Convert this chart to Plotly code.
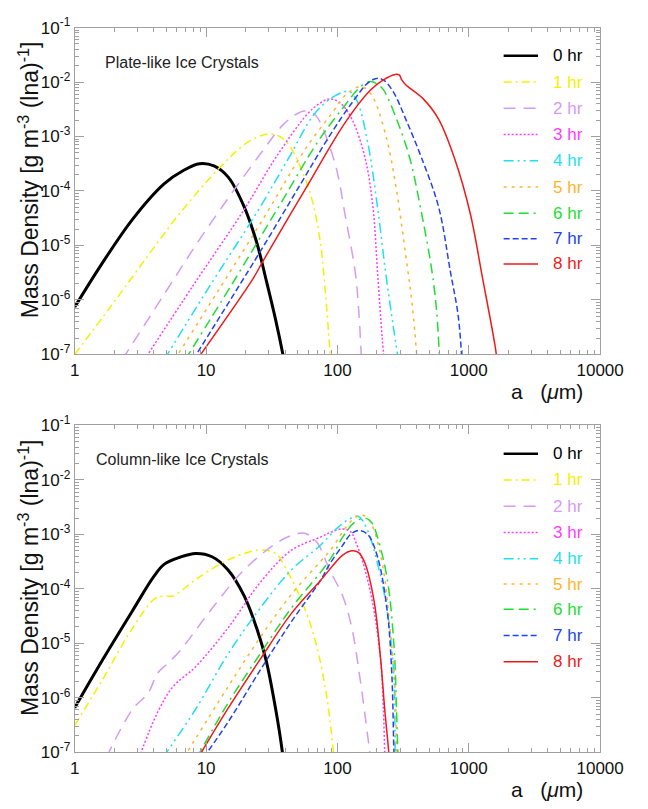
import numpy as np
import plotly.graph_objects as go

# ---------------- data (log10 values) ----------------
hours = ["0 hr", "1 hr", "2 hr", "3 hr", "4 hr", "5 hr", "6 hr", "7 hr", "8 hr"]
colors = ["#000000", "#F5F000", "#D49BF2", "#FF3CFF", "#1EE0F0",
          "#FFB428", "#22DD33", "#2244EE", "#EE1A1A"]
dashes = ["solid", "8px,4px,2px,4px", "12px,8px", "2px,2px",
          "10px,4px,2px,4px,2px,4px", "3px,5px", "10px,5px,10px,5px,2px,5px",
          "6px,3px", "solid"]
widths = [3, 1.5, 1.5, 1.5, 1.5, 1.5, 1.5, 1.5, 1.5]

# Plate-like ice crystals: log10(a [um]) and log10(mass density)
plate_0hr_loga = [0.0, 0.2, 0.44, 0.68, 0.83, 0.95, 1.06, 1.17, 1.29, 1.385, 1.46, 1.53, 1.585, 1.6]
plate_0hr_logm = [-6.13, -5.36, -4.52, -3.87, -3.62, -3.5, -3.54, -3.75, -4.29, -4.94, -5.66, -6.37, -7.0, -7.2]
plate_1hr_loga = [0.0, 0.28, 0.56, 0.80, 1.08, 1.29, 1.40, 1.48, 1.56, 1.63, 1.72, 1.80, 1.87, 1.905, 1.94, 1.95]
plate_1hr_logm = [-7.0, -6.1, -5.18, -4.41, -3.63, -3.15, -3.0, -2.95, -3.0, -3.15, -3.57, -4.1, -4.94, -5.77, -6.84, -7.2]
plate_2hr_loga = [0.36, 0.68, 0.92, 1.16, 1.41, 1.58, 1.68, 1.75, 1.83, 1.88, 1.99, 2.06, 2.135, 2.165, 2.185]
plate_2hr_logm = [-7.1, -5.9, -5.0, -4.16, -3.33, -2.8, -2.6, -2.53, -2.6, -2.8, -3.57, -4.46, -5.48, -6.3, -7.2]
plate_3hr_loga = [0.53, 0.9, 1.29, 1.53, 1.77, 1.86, 1.94, 2.02, 2.11, 2.21, 2.27, 2.305, 2.34, 2.36]
plate_3hr_logm = [-7.1, -5.74, -4.34, -3.39, -2.59, -2.4, -2.31, -2.38, -2.68, -3.39, -4.29, -5.48, -6.67, -7.2]
plate_4hr_loga = [0.68, 1.0, 1.385, 1.63, 1.82, 1.95, 2.05, 2.09, 2.15, 2.23, 2.305, 2.366, 2.42, 2.47]
plate_4hr_logm = [-7.1, -5.85, -4.4, -3.39, -2.6, -2.3, -2.18, -2.17, -2.35, -3.1, -4.29, -5.48, -6.4, -7.2]
plate_5hr_loga = [0.76, 1.1, 1.45, 1.75, 1.95, 2.08, 2.18, 2.23, 2.28, 2.38, 2.45, 2.52, 2.57, 2.61]
plate_5hr_logm = [-7.1, -5.8, -4.45, -3.25, -2.6, -2.2, -2.08, -2.15, -2.32, -3.09, -3.99, -5.18, -6.1, -7.2]
plate_6hr_loga = [0.84, 1.2, 1.55, 1.85, 2.05, 2.17, 2.25, 2.30, 2.35, 2.45, 2.55, 2.64, 2.72, 2.755, 2.78]
plate_6hr_logm = [-7.1, -5.7, -4.3, -3.1, -2.45, -2.1, -1.99, -2.03, -2.14, -2.68, -3.39, -4.4, -5.48, -6.2, -7.2]
plate_7hr_loga = [0.90, 1.41, 1.72, 1.95, 2.12, 2.24, 2.31, 2.36, 2.43, 2.52, 2.64, 2.77, 2.86, 2.92, 2.95]
plate_7hr_logm = [-7.1, -5.12, -3.87, -2.95, -2.35, -2.0, -1.93, -1.98, -2.2, -2.68, -3.39, -4.29, -5.48, -6.3, -7.2]
plate_8hr_loga = [0.93, 1.36, 1.43, 1.75, 2.06, 2.25, 2.35, 2.44, 2.47, 2.49, 2.52, 2.65, 2.77, 2.89, 3.01, 3.105, 3.2, 3.22]
plate_8hr_logm = [-7.1, -5.6, -5.3, -3.99, -2.74, -2.15, -1.96, -1.86, -1.87, -1.96, -2.05, -2.3, -2.68, -3.39, -4.4, -5.6, -6.84, -7.2]

# Column-like ice crystals
col_0hr_loga = [0.0, 0.2, 0.44, 0.6, 0.68, 0.80, 0.92, 1.045, 1.166, 1.29, 1.385, 1.458, 1.53, 1.58, 1.59]
col_0hr_logm = [-6.18, -5.35, -4.4, -3.78, -3.55, -3.42, -3.35, -3.41, -3.65, -4.13, -4.72, -5.32, -6.21, -6.98, -7.2]
col_1hr_loga = [0.0, 0.196, 0.44, 0.61, 0.68, 0.75, 0.92, 1.166, 1.40, 1.53, 1.60, 1.70, 1.77, 1.845, 1.918, 1.966, 1.975]
col_1hr_logm = [-6.5, -5.73, -4.72, -4.18, -4.13, -4.13, -3.83, -3.47, -3.29, -3.35, -3.59, -4.07, -4.48, -5.08, -5.97, -6.92, -7.2]
col_2hr_loga = [0.24, 0.44, 0.56, 0.63, 0.705, 0.80, 1.045, 1.29, 1.53, 1.65, 1.75, 1.845, 1.94, 2.04, 2.11, 2.17, 2.22, 2.245, 2.255]
col_2hr_logm = [-7.1, -6.21, -5.91, -5.55, -5.375, -5.14, -4.36, -3.65, -3.17, -3.02, -2.98, -3.15, -3.65, -4.13, -4.72, -5.61, -6.5, -6.98, -7.2]
col_3hr_loga = [0.49, 0.63, 0.75, 0.92, 1.166, 1.41, 1.65, 1.87, 1.96, 2.04, 2.10, 2.135, 2.21, 2.28, 2.33, 2.35, 2.36, 2.365]
col_3hr_logm = [-7.1, -6.27, -5.79, -5.43, -4.72, -3.89, -3.29, -3.05, -2.95, -2.9, -2.95, -3.11, -3.65, -4.42, -5.32, -6.21, -6.98, -7.2]
col_4hr_loga = [0.67, 0.92, 1.166, 1.41, 1.65, 1.87, 2.0, 2.09, 2.16, 2.23, 2.305, 2.38, 2.43, 2.44, 2.445]
col_4hr_logm = [-7.1, -6.21, -5.2, -4.36, -3.65, -3.2, -2.88, -2.72, -2.67, -2.93, -3.53, -4.42, -5.61, -6.98, -7.2]
col_5hr_loga = [0.83, 1.166, 1.41, 1.65, 1.87, 1.96, 2.04, 2.12, 2.18, 2.23, 2.28, 2.35, 2.40, 2.44, 2.45, 2.455]
col_5hr_logm = [-7.1, -5.8, -4.9, -4.1, -3.5, -3.25, -2.95, -2.72, -2.64, -2.7, -2.93, -3.65, -4.72, -5.9, -6.98, -7.2]
col_6hr_loga = [0.93, 1.166, 1.41, 1.65, 1.87, 1.96, 2.04, 2.13, 2.21, 2.26, 2.305, 2.38, 2.43, 2.45, 2.46, 2.465]
col_6hr_logm = [-7.1, -6.1, -5.2, -4.35, -3.7, -3.4, -3.05, -2.78, -2.7, -2.78, -3.05, -3.83, -5.02, -6.21, -6.98, -7.2]
col_7hr_loga = [0.98, 1.166, 1.41, 1.65, 1.87, 1.94, 2.04, 2.10, 2.16, 2.23, 2.305, 2.38, 2.415, 2.43, 2.435]
col_7hr_logm = [-7.1, -6.45, -5.5, -4.6, -3.85, -3.55, -3.2, -3.0, -2.93, -3.0, -3.41, -4.42, -5.61, -6.98, -7.2]
col_8hr_loga = [0.94, 1.166, 1.41, 1.65, 1.87, 2.04, 2.11, 2.16, 2.21, 2.28, 2.33, 2.36, 2.39, 2.395]
col_8hr_logm = [-7.1, -6.2, -5.3, -4.45, -3.85, -3.38, -3.30, -3.33, -3.53, -4.24, -5.32, -6.21, -6.98, -7.2]

plate_series = [
    (plate_0hr_loga, plate_0hr_logm), (plate_1hr_loga, plate_1hr_logm),
    (plate_2hr_loga, plate_2hr_logm), (plate_3hr_loga, plate_3hr_logm),
    (plate_4hr_loga, plate_4hr_logm), (plate_5hr_loga, plate_5hr_logm),
    (plate_6hr_loga, plate_6hr_logm), (plate_7hr_loga, plate_7hr_logm),
    (plate_8hr_loga, plate_8hr_logm),
]
col_series = [
    (col_0hr_loga, col_0hr_logm), (col_1hr_loga, col_1hr_logm),
    (col_2hr_loga, col_2hr_logm), (col_3hr_loga, col_3hr_logm),
    (col_4hr_loga, col_4hr_logm), (col_5hr_loga, col_5hr_logm),
    (col_6hr_loga, col_6hr_logm), (col_7hr_loga, col_7hr_logm),
    (col_8hr_loga, col_8hr_logm),
]

x_tickvals = [1, 10, 100, 1000, 10000]
x_ticktext = ["1", "10", "100", "1000", "10000"]
y_tickvals = [1e-1, 1e-2, 1e-3, 1e-4, 1e-5, 1e-6, 1e-7]
y_ticktext = ["10<sup>-%d</sup>" % k for k in range(1, 8)]

# ---------------- layout helpers ----------------
W, H = 648, 809
FONT = "Liberation Sans, Arial, Helvetica, sans-serif"
GRAY = "#a0a0a0"


def fx(p):
    return p / W


def fy(p):
    return 1 - p / H


panels = [
    dict(top=16, bottom=352, label="Plate-like Ice Crystals", label_y=52,
         label_x=103, series=plate_series, legend_rows=[45, 72, 99, 126, 153, 180, 207, 233, 259]),
    dict(top=425, bottom=761, label="Column-like Ice Crystals", label_y=460,
         label_x=93, series=col_series, legend_rows=[454, 481, 508, 535, 562, 588, 614, 641, 668]),
]
LEFT, RIGHT = 73, 623

fig = go.Figure()
annotations = []
shapes = []

for pi, pan in enumerate(panels):
    sfx = "" if pi == 0 else "2"
    xref = "x" + sfx
    yref = "y" + sfx
    for i, (la, lm) in enumerate(pan["series"]):
        fig.add_trace(go.Scatter(
            x=np.power(10.0, la), y=np.power(10.0, lm), mode="lines",
            line=dict(color=colors[i], width=widths[i], dash=dashes[i],
                      shape="spline", smoothing=1.0),
            name=hours[i], showlegend=False, xaxis=xref, yaxis=yref,
        ))
    axis_common = dict(
        type="log", showline=True, linecolor=GRAY, linewidth=1, mirror="ticks",
        ticks="inside", tickcolor=GRAY, showgrid=False, zeroline=False,
        tickfont=dict(family=FONT, size=17, color="#111111"),
        minor=dict(ticks="inside", ticklen=4, tickcolor=GRAY, dtick="D1", showgrid=False),
    )
    fig.update_layout(**{
        "xaxis" + sfx: dict(axis_common, domain=[fx(LEFT), fx(RIGHT)], anchor=yref,
                            range=[0, 4], tickmode="array", tickvals=x_tickvals,
                            ticktext=x_ticktext, ticklen=9),
        "yaxis" + sfx: dict(axis_common, domain=[fy(pan["bottom"]), fy(pan["top"])],
                            anchor=xref, range=[-7, -1], tickmode="array",
                            tickvals=y_tickvals, ticktext=y_ticktext, ticklen=9),
    })
    # panel label
    annotations.append(dict(
        x=fx(pan["label_x"]), y=fy(pan["label_y"]), xref="paper", yref="paper",
        text=pan["label"], showarrow=False, xanchor="left", yanchor="middle",
        font=dict(family=FONT, size=16, color="#222222")))
    # y title
    annotations.append(dict(
        x=fx(25), y=fy(pan["top"] + 156), xref="paper", yref="paper",
        text="Mass Density [g m<sup>-3</sup> (lna)<sup>-1</sup>]", textangle=-90,
        showarrow=False, xanchor="center", yanchor="middle",
        font=dict(family=FONT, size=23, color="#111111")))
    # x title
    annotations.append(dict(
        x=fx(607), y=fy(pan["bottom"] + 38), xref="paper", yref="paper",
        text="a\u00a0\u00a0\u00a0(<i>\u03bc</i>m)", showarrow=False,
        xanchor="right", yanchor="middle",
        font=dict(family=FONT, size=21, color="#111111")))
    # legend
    for i, ry in enumerate(pan["legend_rows"]):
        shapes.append(dict(type="line", xref="paper", yref="paper",
                           x0=fx(522), x1=fx(558), y0=fy(ry), y1=fy(ry),
                           line=dict(color=colors[i], width=widths[i] if i else 2.5,
                                     dash=dashes[i])))
        annotations.append(dict(
            x=fx(572), y=fy(ry), xref="paper", yref="paper", text=hours[i],
            showarrow=False, xanchor="left", yanchor="middle",
            font=dict(family=FONT, size=17, color=colors[i])))

fig.update_layout(
    width=W, height=H, margin=dict(l=0, r=0, t=0, b=0),
    paper_bgcolor="white", plot_bgcolor="white",
    annotations=annotations, shapes=shapes, showlegend=False,
)

fig.write_html("out.html")
